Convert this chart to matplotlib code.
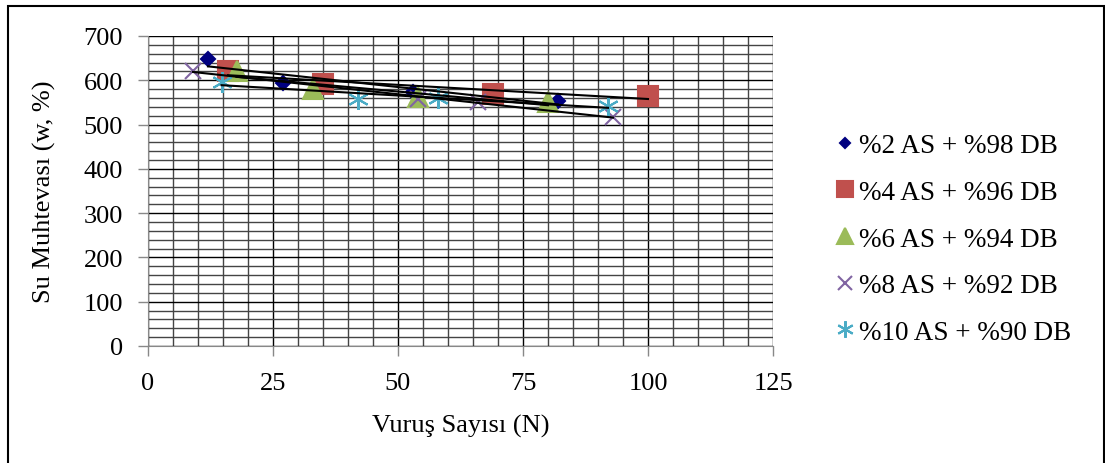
"""Su muhtevasi - vurus sayisi grafigi"""

import numpy as np
import matplotlib.pyplot as plt
from matplotlib.patches import Rectangle
from matplotlib.ticker import MultipleLocator

plt.rcParams['font.family'] = ['Liberation Serif', 'DejaVu Serif']

labels = ["%2 AS + %98 DB", "%4 AS + %96 DB", "%6 AS + %94 DB",
          "%8 AS + %92 DB", "%10 AS + %90 DB"]
x_2 = [12, 27, 53, 82]
y_2 = [649, 595, 573, 554]
x_4 = [16, 35, 69, 100]
y_4 = [621, 591, 569, 565]
x_6 = [17.7, 33, 54, 80]
y_6 = [620, 580, 563, 551]
x_8 = [9, 54, 66, 93]
y_8 = [621, 558, 550, 518]
x_10 = [14.7, 42, 58, 92]
y_10 = [597, 558, 561, 542]

markers = ['D', 's', '^', 'x', (6, 2, 0)]
colors = ['#000080', '#c0504d', '#9bbb59', '#8064a2', '#4bacc6']
sizes = [7, 14, 14, 12, 15]


def main():
    fig = plt.figure(figsize=(11.05, 4.64), dpi=100)
    ax = fig.add_axes([148 / 1105, 1 - 347 / 464, 625 / 1105, 310 / 464])
    fig.patches.append(Rectangle((8 / 1105, -0.01), 1096 / 1105, 1 - 7 / 464 + 0.01,
                                 transform=fig.transFigure, fill=False,
                                 edgecolor='black', linewidth=1.5))

    xs = [x_2, x_4, x_6, x_8, x_10]
    ys = [y_2, y_4, y_6, y_8, y_10]
    for x, y, lab, m, c, s in zip(xs, ys, labels, markers, colors, sizes):
        ax.plot(x, y, linestyle='none', marker=m, color=c, markersize=s,
                markeredgewidth=1.5, label=lab, zorder=3)
        k, b = np.polyfit(x, y, 1)
        xf = np.array([min(x), max(x)])
        ax.plot(xf, k * xf + b, color='black', linewidth=1.5, zorder=4)

    ax.set_xlim(0, 125)
    ax.set_ylim(0, 700)
    ax.xaxis.set_major_locator(MultipleLocator(25))
    ax.yaxis.set_major_locator(MultipleLocator(100))
    ax.xaxis.set_minor_locator(MultipleLocator(5))
    ax.yaxis.set_minor_locator(MultipleLocator(20))
    ax.grid(which='major', color='black', linewidth=1)
    ax.grid(which='minor', color='#444444', linewidth=1)
    ax.set_axisbelow(True)
    ax.tick_params(which='major', direction='out', length=7, labelsize=19,
                   width=1, color='#888888')
    ax.tick_params(axis='y', which='major', pad=11)
    ax.tick_params(axis='x', which='major', pad=12)
    ax.tick_params(which='minor', length=0)
    for side in ['top', 'right']:
        ax.spines[side].set_visible(False)
    ax.spines['left'].set_color('#888888')
    ax.spines['bottom'].set_color('#888888')

    ax.set_xlabel("Vuruş Sayısı (N)", fontsize=19, labelpad=14)
    ax.set_ylabel("Su Muhtevası (w, %)", fontsize=19, labelpad=20)

    ax.legend(loc='center left', bbox_to_anchor=(1.085, 0.345), frameon=False,
              fontsize=19.5, handlelength=0.6, handletextpad=0.2,
              labelspacing=0.8, borderaxespad=0, markerscale=0.8)

    fig.savefig("out.png", dpi=100)


main()
